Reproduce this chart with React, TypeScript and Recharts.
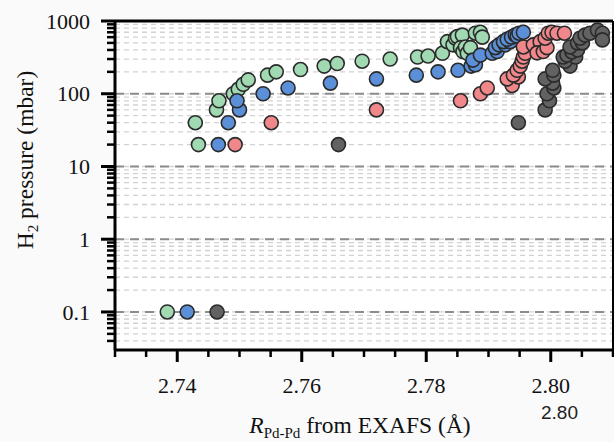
import {
  ScatterChart,
  Scatter,
  XAxis,
  YAxis,
  CartesianGrid,
  ReferenceLine,
} from "recharts";

// Pd-Pd distance (Å) vs H2 pressure (mbar), one array per sample
const greenPts = [
  [2.7384, 0.1], [2.7429, 40], [2.7434, 20], [2.7463, 60], [2.7467, 80],
  [2.749, 100], [2.7498, 115], [2.7506, 135], [2.7514, 155], [2.7545, 180],
  [2.7559, 200], [2.7598, 215], [2.7636, 240], [2.7657, 260], [2.7697, 280],
  [2.7742, 300], [2.7786, 320], [2.7803, 330], [2.7826, 360], [2.7834, 520],
  [2.7843, 470], [2.7847, 580], [2.785, 610], [2.7858, 640], [2.7855, 430],
  [2.7859, 380], [2.7863, 440], [2.7866, 360], [2.7871, 430], [2.7879, 680],
  [2.7887, 700], [2.789, 600],
];

const bluePts = [
  [2.7416, 0.1], [2.7466, 20], [2.7482, 40], [2.75, 60], [2.7496, 80],
  [2.7538, 100], [2.7578, 120], [2.7646, 140], [2.772, 160], [2.7784, 180],
  [2.7819, 200], [2.7851, 210], [2.7872, 240], [2.7879, 250], [2.7875, 290],
  [2.7887, 340], [2.7906, 360], [2.7914, 380], [2.7911, 430], [2.7917, 470],
  [2.7927, 470], [2.7924, 520], [2.7935, 520], [2.793, 560], [2.7937, 600],
  [2.7943, 640], [2.7946, 620], [2.7949, 680], [2.7956, 700],
];

const redPts = [
  [2.7493, 20], [2.7551, 40], [2.772, 60], [2.7855, 80], [2.7887, 100],
  [2.7898, 120], [2.7938, 130], [2.793, 160], [2.7948, 170], [2.794, 180],
  [2.7946, 210], [2.7951, 240], [2.7954, 280], [2.7956, 320], [2.7959, 360],
  [2.7956, 440], [2.7972, 470], [2.7983, 520], [2.7978, 365], [2.7988, 380],
  [2.7994, 430], [2.7991, 580], [2.7996, 680], [2.8002, 700], [2.801, 680],
  [2.8022, 680],
];

const blackPts = [
  [2.7464, 0.1], [2.7659, 20], [2.7948, 40], [2.7991, 60], [2.7998, 80],
  [2.7994, 100], [2.8005, 120], [2.8003, 140], [2.7991, 160], [2.8005, 180],
  [2.8003, 210], [2.8031, 240], [2.8023, 280], [2.802, 320], [2.804, 320],
  [2.8026, 340], [2.8034, 375], [2.8043, 400], [2.8031, 440], [2.8043, 500],
  [2.8051, 500], [2.8047, 580], [2.8055, 640], [2.8063, 680], [2.8075, 750],
  [2.8083, 680], [2.8083, 550],
];

const xTicks = [
  2.73, 2.735, 2.74, 2.745, 2.75, 2.755, 2.76, 2.765, 2.77, 2.775, 2.78,
  2.785, 2.79, 2.795, 2.8, 2.805, 2.81,
];
const xLabelled = [2.74, 2.76, 2.78, 2.8];

const yMajor = [0.1, 1, 10, 100, 1000];
const yMinorSteps = [2, 3, 4, 5, 6, 7, 8, 9];

const yTicks = [
  0.04, 0.05, 0.06, 0.07, 0.08, 0.09,
  ...yMajor.flatMap((d) => [d, ...(d < 1000 ? yMinorSteps.map((m) => +(d * m).toPrecision(3)) : [])]),
];

const toRows = (pts: number[][]) => pts.map(([r, p]) => ({ r, p }));

const SERIF = "Liberation Serif, Times New Roman, serif";

const dot = (fill: string) => (props: any) => (
  <circle cx={props.cx} cy={props.cy} r={7} fill={fill} stroke="#2b2b2b" strokeWidth={1.6} />
);

const isMajorY = (v: number) => yMajor.some((m) => Math.abs(m - v) < 1e-9);

const YTick = (props: any) => {
  const { x, y, payload } = props;
  const major = isMajorY(payload.value);
  return (
    <g>
      <line x1={x - (major ? 14 : 8)} x2={x} y1={y} y2={y} stroke="#000" strokeWidth={major ? 3 : 2.5} />
      {major && (
        <text x={x - 25} y={y} dy="0.35em" textAnchor="end" fontFamily={SERIF} fontSize={22} fill="#111">
          {String(payload.value)}
        </text>
      )}
    </g>
  );
};

const XTick = (props: any) => {
  const { x, y, payload } = props;
  const major = xLabelled.some((m) => Math.abs(m - payload.value) < 1e-9);
  return (
    <g>
      <line x1={x} x2={x} y1={y} y2={y + (major ? 12 : 7)} stroke="#000" strokeWidth={major ? 3 : 2.5} />
      {major && (
        <text x={x} y={y + 43} textAnchor="middle" fontFamily={SERIF} fontSize={22} fill="#111">
          {payload.value.toFixed(2)}
        </text>
      )}
    </g>
  );
};

const XLabel = () => (
  <text x={360} y={433} textAnchor="middle" fontFamily={SERIF} fontSize={23.5} fill="#111">
    <tspan fontStyle="italic">R</tspan>
    <tspan fontSize={15} dy={5}>Pd-Pd</tspan>
    <tspan dy={-5}> from EXAFS (Å)</tspan>
  </text>
);

const YLabel = () => (
  <text x={0} y={0} transform="translate(33,160) rotate(-90)" textAnchor="middle" fontFamily={SERIF} fontSize={23.5} fill="#111">
    <tspan>H</tspan>
    <tspan fontSize={15} dy={5}>2</tspan>
    <tspan dy={-5}> pressure (mbar)</tspan>
  </text>
);

export default function App() {
  return (
    <div style={{ position: "absolute", left: 0, top: 0, width: 614, height: 442, background: "#fafafa" }}>
      <ScatterChart width={614} height={442} margin={{ top: 21, right: 1, bottom: 52, left: 55 }}>
        <CartesianGrid
          vertical={false}
          horizontal
          stroke="#d2d2d2"
          strokeDasharray="5 4"
          strokeWidth={1.3}
          fill="#ffffff"
        />
        <XAxis
          type="number"
          dataKey="r"
          domain={[2.73, 2.81]}
          ticks={xTicks}
          interval={0}
          allowDataOverflow
          height={40}
          tickSize={0}
          tickMargin={0}
          tickLine={false}
          axisLine={{ stroke: "#000", strokeWidth: 3 }}
          tick={<XTick />}
          label={{ content: () => <XLabel /> }}
        />
        <YAxis
          type="number"
          dataKey="p"
          scale="log"
          domain={[0.03, 1000]}
          ticks={yTicks}
          interval={0}
          allowDataOverflow
          width={60}
          tickSize={0}
          tickMargin={0}
          tickLine={false}
          axisLine={{ stroke: "#000", strokeWidth: 3 }}
          tick={<YTick />}
          label={{ content: () => <YLabel /> }}
        />
        {yMajor.slice(0, 4).map((v) => (
          <ReferenceLine key={v} y={v} stroke="#8c8c8c" strokeWidth={2} strokeDasharray="9 6" />
        ))}
        <ReferenceLine y={1000} stroke="#000" strokeWidth={3} />
        <ReferenceLine x={2.81} stroke="#000" strokeWidth={2} />
        <Scatter data={toRows(greenPts)} shape={dot("#a0d9b2")} isAnimationActive={false} />
        <Scatter data={toRows(bluePts)} shape={dot("#5b8fd7")} isAnimationActive={false} />
        <Scatter data={toRows(redPts)} shape={dot("#f0878a")} isAnimationActive={false} />
        <Scatter data={toRows(blackPts)} shape={dot("#626262")} isAnimationActive={false} />
      </ScatterChart>
      <div
        style={{
          position: "absolute",
          left: 541,
          top: 402,
          fontFamily: "Liberation Sans, Arial, sans-serif",
          fontSize: 19,
          color: "#222",
        }}
      >
        2.80
      </div>
    </div>
  );
}
